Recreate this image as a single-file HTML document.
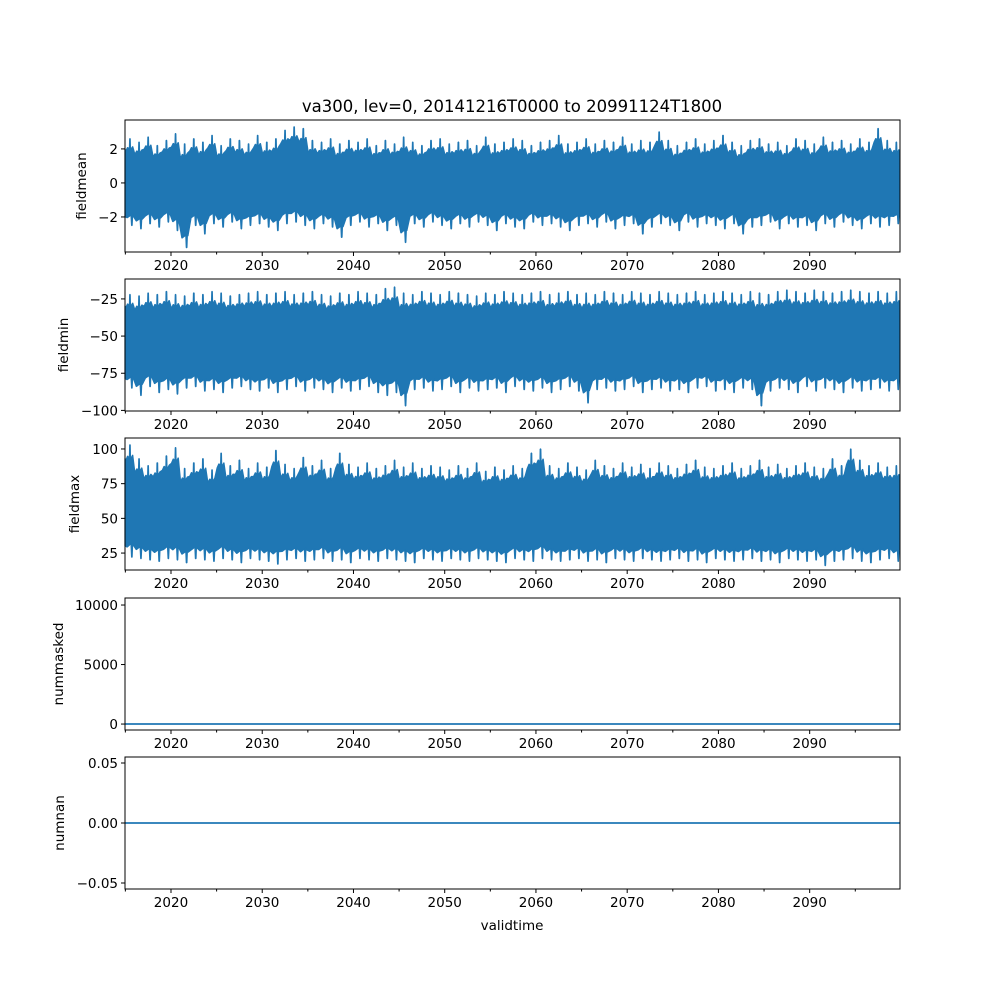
<!DOCTYPE html>
<html><head><meta charset="utf-8"><style>
body{margin:0;background:#fff}
svg text{font-family:"DejaVu Sans","Liberation Sans",sans-serif;fill:#000}
</style></head><body>
<svg id="c" width="1000" height="1000" xmlns="http://www.w3.org/2000/svg">
<text x="512" y="112" font-size="16.5" text-anchor="middle">va300, lev=0, 20141216T0000 to 20991124T1800</text>
<text x="512" y="930" font-size="13.5" text-anchor="middle">validtime</text>
</svg>
<script>
const years = [];
for (let y = 2015; y <= 2099; y++) years.push(y);
const xTicks = [2020, 2030, 2040, 2050, 2060, 2070, 2080, 2090];
const meanHi = [2.6,2.4,2.7,2.2,2.5,2.9,2.3,2.6,2.4,2.8,2.2,2.6,2.5,2.3,2.8,2.4,2.6,3.1,3.3,3.2,2.5,2.4,2.6,2.3,2.5,2.4,2.6,2.2,2.5,2.3,2.7,2.4,2.2,2.5,2.6,2.3,2.4,2.5,2.2,2.7,2.3,2.4,2.6,2.5,2.2,2.4,2.5,2.8,2.3,2.4,2.6,2.3,2.5,2.4,2.7,2.3,2.5,2.4,3.0,2.5,2.2,2.4,2.6,2.3,2.5,2.8,2.4,2.2,2.5,2.6,2.3,2.4,2.2,2.6,2.5,2.3,2.7,2.4,2.5,2.3,2.6,2.4,3.2,2.5,2.4];
const meanLo = [-2.5,-2.7,-2.4,-2.6,-2.3,-2.8,-3.8,-2.5,-3.0,-2.4,-2.6,-2.3,-2.7,-2.5,-2.4,-2.6,-2.8,-2.4,-2.3,-2.5,-2.7,-2.4,-2.6,-3.2,-2.5,-2.3,-2.6,-2.4,-2.8,-2.5,-3.5,-2.4,-2.6,-2.3,-2.5,-2.7,-2.4,-2.6,-2.3,-2.5,-2.8,-2.4,-2.6,-2.7,-2.3,-2.5,-2.4,-2.6,-2.8,-2.5,-2.4,-2.6,-2.3,-2.7,-2.5,-2.4,-3.0,-2.6,-2.4,-2.5,-2.8,-2.3,-2.6,-2.4,-2.5,-2.7,-2.4,-3.0,-2.6,-2.5,-2.3,-2.7,-2.4,-2.6,-2.5,-2.8,-2.4,-2.6,-2.3,-2.5,-2.7,-2.4,-2.6,-2.5,-2.4];
const minHi = [-22,-23,-21,-22,-20,-22,-23,-21,-22,-20,-21,-23,-22,-21,-20,-22,-21,-20,-22,-21,-20,-22,-23,-21,-22,-20,-21,-22,-18,-17,-21,-22,-20,-21,-22,-20,-21,-22,-23,-21,-22,-20,-21,-22,-21,-20,-22,-21,-20,-22,-21,-22,-20,-21,-22,-20,-21,-22,-20,-21,-22,-21,-20,-22,-21,-20,-21,-22,-20,-21,-22,-20,-19,-20,-21,-19,-20,-21,-20,-19,-20,-21,-20,-21,-20];
const minLo = [-85,-90,-84,-88,-86,-89,-85,-84,-87,-86,-88,-85,-84,-86,-87,-85,-88,-86,-84,-87,-85,-86,-88,-85,-87,-86,-84,-88,-90,-88,-97,-86,-85,-87,-86,-84,-88,-85,-87,-86,-85,-88,-84,-86,-87,-85,-88,-86,-84,-87,-95,-86,-85,-87,-86,-84,-88,-86,-85,-87,-86,-88,-85,-84,-87,-86,-88,-85,-86,-97,-87,-85,-86,-88,-84,-87,-85,-86,-88,-85,-87,-86,-85,-87,-86];
const maxHi = [103,93,88,90,95,101,86,90,93,85,97,88,92,86,90,87,99,89,86,94,88,92,86,97,89,87,90,86,88,92,87,90,86,88,87,85,88,86,90,84,87,85,88,86,97,100,88,86,90,87,85,92,88,86,90,87,89,86,90,88,86,89,92,87,86,88,90,86,88,92,87,89,86,88,90,87,86,93,88,100,92,88,90,87,88];
const maxLo = [22,21,20,19,21,20,18,21,20,19,21,20,18,21,20,19,17,20,21,19,20,21,19,20,18,21,20,19,21,20,19,18,21,20,19,21,20,19,21,20,19,18,21,20,19,21,20,19,20,21,19,20,18,21,20,19,21,20,19,20,21,19,20,18,21,20,19,20,21,19,20,18,21,20,19,20,16,19,20,21,19,18,20,21,19];
const maskVals = years.map(() => 0);
const nanVals = years.map(() => 0);

const svg = document.getElementById('c');
const NS = 'http://www.w3.org/2000/svg';
const X0 = 125, X1 = 900, T0 = 2014.96, T1 = 2099.9;
const xs = t => X0 + (t - T0) / (T1 - T0) * (X1 - X0);
function mk(tag, attrs, parent) {
  const e = document.createElementNS(NS, tag);
  for (const k in attrs) e.setAttribute(k, attrs[k]);
  (parent || svg).appendChild(e);
  return e;
}
const panels = [
  {name:'fieldmean', top:120, lo:-4.06, hi:3.7, ticks:[-2,0,2], labels:['\u22122','0','2'], band:[meanHi, meanLo], lx:86},
  {name:'fieldmin', top:279, lo:-100.4, hi:-11.6, ticks:[-100,-75,-50,-25], labels:['\u2212100','\u221275','\u221250','\u221225'], band:[minHi, minLo], lx:68},
  {name:'fieldmax', top:438, lo:12.8, hi:107.9, ticks:[25,50,75,100], labels:['25','50','75','100'], band:[maxHi, maxLo], lx:79},
  {name:'nummasked', top:598, lo:-500, hi:10590, ticks:[0,5000,10000], labels:['0','5000','10000'], line:maskVals, lx:63},
  {name:'numnan', top:757, lo:-0.055, hi:0.055, ticks:[-0.05,0,0.05], labels:['\u22120.05','0.00','0.05'], line:nanVals, lx:64}
];
panels.forEach(p => {
  const H = 132, bot = p.top + H;
  const ys = v => bot - (v - p.lo) / (p.hi - p.lo) * H;
  const g = mk('g', {});
  
  
  if (p.band) {
    const [hiA, loA] = p.band;
    const r0 = hiA[0] - loA[0];
    let pts = [[X0, ys(loA[0] + r0 * 0.1)], [X0, ys(hiA[0] - r0 * 0.12)]];
    for (let i = 0; i < years.length; i++) {
      const t = years[i] + 0.5, r = hiA[i] - loA[i];
      pts.push([xs(years[i] + 0.05), ys(hiA[i] - r * 0.14)]);
      pts.push([xs(years[i] + 0.25), ys(hiA[i] - r * 0.10)]);
      pts.push([xs(t - 0.06), ys(hiA[i] - r * 0.12)]);
      pts.push([xs(t - 0.03), ys(hiA[i])]);
      pts.push([xs(t + 0.03), ys(hiA[i])]);
      pts.push([xs(t + 0.06), ys(hiA[i] - r * 0.13)]);
      pts.push([xs(years[i] + 0.8), ys(hiA[i] - r * 0.09)]);
    }
    let low = [];
    for (let i = years.length - 1; i >= 0; i--) {
      const t = years[i] + 0.5, r = hiA[i] - loA[i];
      low.push([xs(years[i] + 0.85), ys(loA[i] + r * 0.11)]);
      low.push([xs(t + 0.3), ys(loA[i] + r * 0.13)]);
      low.push([xs(t + 0.24), ys(loA[i])]);
      low.push([xs(t + 0.18), ys(loA[i])]);
      low.push([xs(t + 0.12), ys(loA[i] + r * 0.12)]);
      low.push([xs(years[i] + 0.2), ys(loA[i] + r * 0.09)]);
    }
    const all = pts.concat(low).map(q => [Math.max(X0, Math.min(X1, q[0])), q[1]]);
    const poly = mk('polygon', {points: all.map(q => q[0].toFixed(1) + ',' + q[1].toFixed(1)).join(' '), fill:'#1f77b4', stroke:'#1f77b4', 'stroke-width':1.2, 'stroke-linejoin':'bevel'}, g);
    
    
  } else {
    const d = years.map((y, i) => (i ? 'L' : 'M') + Math.max(X0, xs(y)).toFixed(1) + ',' + ys(p.line[i]).toFixed(1)).join(' ') + ' L' + X1 + ',' + ys(p.line[p.line.length - 1]).toFixed(1);
    const ln = mk('path', {d: d, fill:'none', stroke:'#1f77b4', 'stroke-width':1.8}, g);
    
    
  }
  const fr = mk('rect', {x:X0, y:p.top, width:X1 - X0, height:H, fill:'none', stroke:'#000', 'stroke-width':1}, g);
  
  
  p.ticks.forEach((v, i) => {
    const y = ys(v);
    mk('line', {x1:X0 - 4, x2:X0, y1:y, y2:y, stroke:'#000'}, g);
    const tx = mk('text', {x:X0 - 7, y:y + 5, 'font-size':13.5, 'text-anchor':'end'}, g);
    tx.textContent = p.labels[i];
    
    
  });
  for (let y = 2015; y <= 2095; y += 5) {
    const x = xs(y);
    const major = y % 10 === 0;
    mk('line', {x1:x, x2:x, y1:bot, y2:bot + (major ? 4 : 2.5), stroke:'#000'}, g);
  }
  xTicks.forEach(t => {
    const tx = mk('text', {x:xs(t), y:bot + 18, 'font-size':13.5, 'text-anchor':'middle'}, g);
    tx.textContent = t;
    
    
  });
  const yl = mk('text', {x:p.lx, y:p.top + H / 2, 'font-size':13.5, 'text-anchor':'middle', transform:'rotate(-90 ' + p.lx + ' ' + (p.top + H / 2) + ')'}, g);
  yl.textContent = p.name;
  
  
});
</script>
</body></html>
